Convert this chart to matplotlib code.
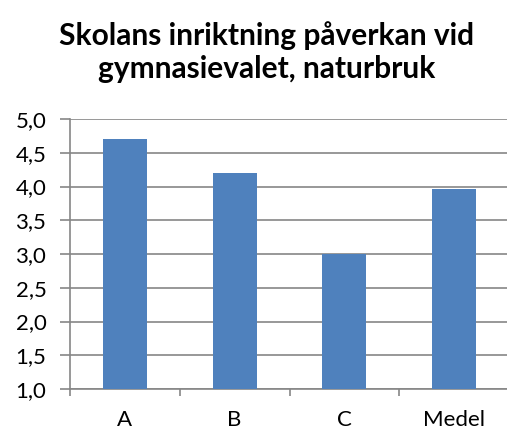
import matplotlib
matplotlib.use("Agg")
import matplotlib.pyplot as plt
import numpy as np

categories = ["A", "B", "C", "Medel"]
values = [4.7, 4.2, 3.0, 3.96]
yticks = [1.0, 1.5, 2.0, 2.5, 3.0, 3.5, 4.0, 4.5, 5.0]
ytick_labels = ["1,0", "1,5", "2,0", "2,5", "3,0", "3,5", "4,0", "4,5", "5,0"]
title = "Skolans inriktning påverkan vid\ngymnasievalet, naturbruk"

plt.rcParams['font.family'] = ['Lato', 'DejaVu Sans']

fig = plt.figure(figsize=(5.07, 4.32), dpi=100)
ax = fig.add_axes([70/507, 1-389/432, 439/507, 270/432])

x = np.arange(len(categories))
ax.bar(x, [v - 1.0 for v in values], bottom=1.0, width=0.4, color="#4F81BD", zorder=3)
ax.set_xlim(-0.5, len(categories) - 0.5)
ax.set_ylim(1.0, 5.0)
ax.set_yticks(yticks)
ax.set_yticklabels(ytick_labels, fontsize=16)
ax.set_xticks(x)
ax.set_xticklabels(categories, fontsize=16)
ax.set_xticks(np.arange(-0.5, len(categories) + 0.5, 1.0), minor=True)
ax.tick_params(axis='x', which='major', length=0, pad=15)
ax.tick_params(axis='x', which='minor', length=5, width=1.2, color="#868686")
ax.tick_params(axis='y', length=7, width=1.2, color="#868686", pad=10)
ax.grid(axis='y', color="#868686", linewidth=1.2, zorder=0)
for s in ['top', 'right']:
    ax.spines[s].set_visible(False)
for s in ['left', 'bottom']:
    ax.spines[s].set_color("#868686")
    ax.spines[s].set_linewidth(1.2)

fig.text(267/507, 1-52/432, title, ha='center', va='center', fontsize=21.5,
         fontweight='bold', linespacing=1.25)

fig.savefig("out.png", dpi=100)
